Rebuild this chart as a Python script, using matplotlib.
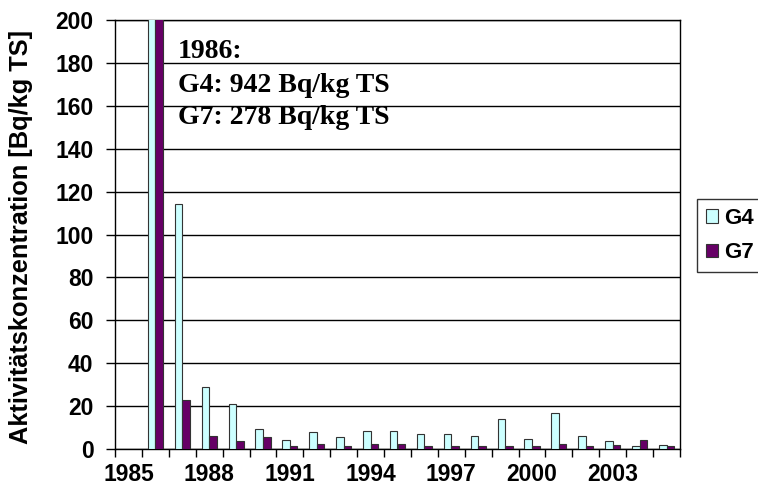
import numpy as np
import matplotlib
matplotlib.use("Agg")
import matplotlib.pyplot as plt

years = list(range(1985, 2006))
g4 = [np.nan, 942, 114, 29, 21, 9.4, 4.1, 7.8, 5.6, 8.4, 8.4, 7.2, 7.2, 6.1, 13.8,
      4.5, 17, 6.1, 3.9, 1.3, 1.9]
g7 = [np.nan, 278, 23, 6.2, 3.6, 5.6, 1.3, 2.5, 1.3, 2.5, 2.5, 1.3, 1.3, 1.3, 1.3,
      1.3, 2.3, 1.3, 1.9, 4.1, 1.3]
label_years = [1985, 1988, 1991, 1994, 1997, 2000, 2003]
yticks = list(range(0, 201, 20))

W, H = 758, 497
fig = plt.figure(figsize=(W / 100, H / 100), dpi=100)
ax = fig.add_axes([115 / W, 1 - 449 / H, (680 - 115) / W, (449 - 20) / H])

x = np.arange(len(years))
bw = 0.28
ax.bar(x - bw / 2, g4, width=bw, color="#CCFFFF", edgecolor="#333333",
       linewidth=0.8, label="G4", zorder=3)
ax.bar(x + bw / 2, g7, width=bw, color="#660066", edgecolor="#333333",
       linewidth=0.8, label="G7", zorder=3)

ax.set_xlim(-0.5, len(years) - 0.5)
ax.set_ylim(0, 200)
ax.set_yticks(yticks)
ax.set_yticklabels([str(v) for v in yticks])
ax.yaxis.grid(True, color="black", linewidth=1.0, zorder=0)
ax.set_axisbelow(True)

# minor ticks at category boundaries, labels at category centers
ax.set_xticks(np.arange(-0.5, len(years), 1.0), minor=True)
ax.set_xticks([years.index(y) for y in label_years])
ax.set_xticklabels([str(y) for y in label_years])
ax.tick_params(axis="x", which="major", length=0, pad=10)
ax.tick_params(axis="x", which="minor", length=6, width=1, direction="out")
ax.tick_params(axis="y", length=6.5, width=1, direction="out", pad=9)

for lab in ax.get_xticklabels() + ax.get_yticklabels():
    lab.set_fontfamily("Liberation Sans")
    lab.set_fontweight("bold")
    lab.set_fontsize(16.5)

for s in ax.spines.values():
    s.set_color("black")
    s.set_linewidth(1.0)

ax.set_ylabel("Aktivitätskonzentration [Bq/kg TS]", fontfamily="Liberation Sans",
              fontweight="bold", fontsize=18.3)
ax.yaxis.set_label_coords((33 - 115) / 565, (449 - 237) / 429)

for txt, ypx in [("1986:", 52), ("G4: 942 Bq/kg TS", 85), ("G7: 278 Bq/kg TS", 117)]:
    ax.text(178 / W, 1 - ypx / H, txt, transform=fig.transFigure,
            fontfamily="Liberation Serif", fontweight="bold", fontsize=20,
            va="center", ha="left")

leg = fig.legend(loc="upper left", bbox_to_anchor=(697 / W, 1 - 199 / H),
                 prop={"family": "Liberation Sans", "weight": "bold", "size": 16},
                 frameon=True, fancybox=False, edgecolor="black",
                 handlelength=0.55, handleheight=0.55, handletextpad=0.25,
                 borderpad=0.4, labelspacing=0.6, borderaxespad=0)
leg.get_frame().set_linewidth(1.0)

fig.savefig("out.png", dpi=100)
